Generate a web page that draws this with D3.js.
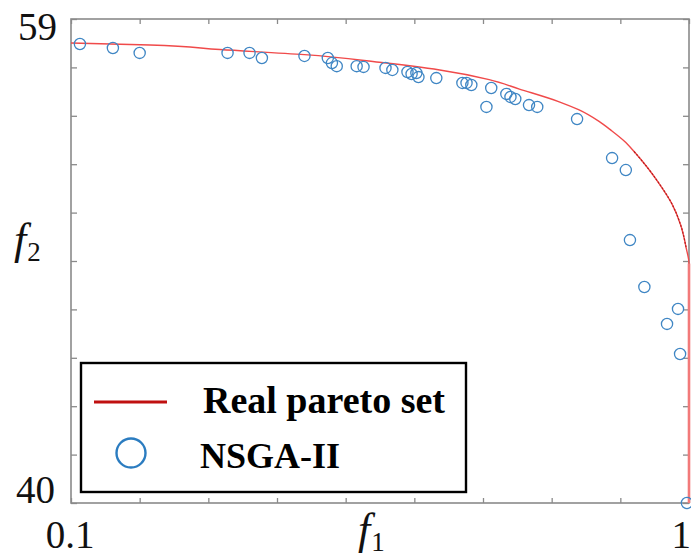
<!DOCTYPE html>
<html>
<head>
<meta charset="utf-8">
<script src="https://cdn.jsdelivr.net/npm/d3@7"></script>
<style>
  html, body { margin: 0; padding: 0; background: #fff; }
  svg { display: block; }
</style>
</head>
<body>
<svg id="chart" width="691" height="557"></svg>
<script>
// Axis ticks and end labels
const f1Ticks = [0.1, 0.2, 0.3, 0.4, 0.5, 0.6, 0.7, 0.8, 0.9, 1.0];
const f2Ticks = [40, 41.9, 43.8, 45.7, 47.6, 49.5, 51.4, 53.3, 55.2, 57.1, 59];
const f1Labels = [{ v: 0.1, t: "0.1" }, { v: 1.0, t: "1" }];
const f2Labels = [{ v: 59, t: "59" }, { v: 40, t: "40" }];

// Real Pareto front (f1, f2)
const frontF1 = [0.100, 0.215, 0.317, 0.440, 0.549, 0.637, 0.709, 0.753, 0.811, 0.840,
                 0.869, 0.887, 0.906, 0.920, 0.940, 0.955, 0.975, 0.988, 0.996, 1.000, 1.000];
const frontF2 = [58.06, 57.98, 57.80, 57.60, 57.30, 57.00, 56.62, 56.25, 55.75, 55.43,
                 54.98, 54.62, 54.20, 53.80, 53.15, 52.60, 51.75, 50.90, 50.00, 49.40, 40.00];

// NSGA-II solutions (f1, f2)
const nsgaF1 = [0.113, 0.161, 0.200, 0.328, 0.360, 0.378, 0.440, 0.474, 0.480, 0.487,
                0.516, 0.526, 0.558, 0.568, 0.590, 0.596, 0.603, 0.606, 0.632, 0.670,
                0.676, 0.683, 0.712, 0.705, 0.734, 0.740, 0.747, 0.767, 0.779, 0.837,
                0.888, 0.908, 0.914, 0.935, 0.984, 0.968, 0.987, 0.997];
const nsgaF2 = [58.02, 57.86, 57.67, 57.67, 57.67, 57.47, 57.55, 57.47, 57.27, 57.15,
                57.15, 57.12, 57.08, 57.00, 56.92, 56.84, 56.88, 56.72, 56.68, 56.49,
                56.49, 56.41, 56.29, 55.55, 56.06, 55.94, 55.86, 55.62, 55.55, 55.07,
                53.54, 53.07, 50.32, 48.48, 47.62, 47.03, 45.85, 40.00];

const seriesNames = ["Real pareto set", "NSGA-II"];

const svg = d3.select("#chart");
const plotL = 71, plotR = 689, plotT = 19, plotB = 503;

const x = d3.scaleLinear().domain([0.1, 1.0]).range([plotL, plotR]);
const y = d3.scaleLinear().domain([40, 59]).range([plotB, plotT]);

const frameColor = "#8a8a8a";
const serif = "'Liberation Serif', 'Times New Roman', serif";

// Inward ticks on all four sides
function styleAxis(g) {
  g.select(".domain").remove();
  g.selectAll(".tick line").attr("stroke", frameColor).attr("stroke-width", 1.3);
  g.selectAll(".tick text").remove();
}
svg.append("g").attr("transform", `translate(0,${plotB})`)
  .call(d3.axisBottom(x).tickValues(f1Ticks).tickSize(-5)).call(styleAxis);
svg.append("g").attr("transform", `translate(0,${plotT})`)
  .call(d3.axisTop(x).tickValues(f1Ticks).tickSize(-5)).call(styleAxis);
svg.append("g").attr("transform", `translate(${plotL},0)`)
  .call(d3.axisLeft(y).tickValues(f2Ticks).tickSize(-6)).call(styleAxis);
svg.append("g").attr("transform", `translate(${plotR},0)`)
  .call(d3.axisRight(y).tickValues(f2Ticks).tickSize(-6)).call(styleAxis);

// Plot frame
svg.append("rect")
  .attr("x", plotL).attr("y", plotT)
  .attr("width", plotR - plotL).attr("height", plotB - plotT)
  .attr("fill", "none").attr("stroke", frameColor).attr("stroke-width", 1.6);

// Pareto front
const front = frontF1.map((v, i) => [v, frontF2[i]]);
const line = d3.line().x(d => x(d[0])).y(d => y(d[1])).curve(d3.curveMonotoneY);
svg.append("path")
  .datum(front)
  .attr("d", line)
  .attr("fill", "none")
  .attr("stroke", "#f04a4a")
  .attr("stroke-width", 1.4);
// denser part of the front near the knee
svg.append("path")
  .datum(front.filter(d => d[0] >= 0.915 && d[1] >= 49.8))
  .attr("d", line)
  .attr("fill", "none")
  .attr("stroke", "#b81c1c")
  .attr("stroke-width", 1.2)
  .attr("stroke-dasharray", "2,1.5");
// vertical part along f1 = 1
svg.append("path")
  .datum(front.filter(d => d[0] >= 1.0))
  .attr("d", line)
  .attr("fill", "none")
  .attr("stroke", "#f27a7a")
  .attr("stroke-width", 2.6);

// NSGA-II points
svg.append("g").selectAll("circle")
  .data(nsgaF1.map((v, i) => [v, nsgaF2[i]]))
  .join("circle")
  .attr("cx", d => x(d[0]))
  .attr("cy", d => y(d[1]))
  .attr("r", 5.6)
  .attr("fill", "none")
  .attr("stroke", "#3f86c4")
  .attr("stroke-width", 1.3);

// Tick labels
svg.append("g").selectAll("text")
  .data(f2Labels)
  .join("text")
  .attr("x", d => d.v === 59 ? 57 : 55)
  .attr("y", d => d.v === 59 ? y(d.v) + 21 : y(d.v))
  .attr("text-anchor", "end")
  .attr("font-family", serif)
  .attr("font-size", 39)
  .attr("fill", "#111")
  .text(d => d.t);
svg.append("g").selectAll("text")
  .data(f1Labels)
  .join("text")
  .attr("x", d => d.v === 0.1 ? x(d.v) - 1 : 691)
  .attr("y", 548)
  .attr("text-anchor", d => d.v === 0.1 ? "middle" : "end")
  .attr("font-family", serif)
  .attr("font-size", 39)
  .attr("fill", "#111")
  .text(d => d.t);

// Axis titles
function axisTitle(tx, ty, sub) {
  const t = svg.append("text")
    .attr("x", tx).attr("y", ty)
    .attr("font-family", serif)
    .attr("fill", "#111");
  t.append("tspan").attr("font-style", "italic").attr("font-size", 44).text("f");
  t.append("tspan").attr("font-size", 27).attr("dx", 1).attr("dy", 7).text(sub);
}
axisTitle(358, 544, "1");
axisTitle(14, 254, "2");

// Legend
const lg = svg.append("g");
lg.append("rect")
  .attr("x", 81).attr("y", 363)
  .attr("width", 385).attr("height", 129)
  .attr("fill", "#fff")
  .attr("stroke", "#000")
  .attr("stroke-width", 2.4);
lg.append("line")
  .attr("x1", 94).attr("x2", 167)
  .attr("y1", 402).attr("y2", 402)
  .attr("stroke", "#c01010")
  .attr("stroke-width", 3);
lg.append("circle")
  .attr("cx", 131).attr("cy", 453)
  .attr("r", 14.5)
  .attr("fill", "none")
  .attr("stroke", "#2b7cc0")
  .attr("stroke-width", 2.4);
lg.selectAll("text.entry")
  .data(seriesNames)
  .join("text")
  .attr("class", "entry")
  .attr("x", (d, i) => i === 0 ? 203 : 200)
  .attr("y", (d, i) => i === 0 ? 413 : 468)
  .attr("font-family", serif)
  .attr("font-weight", "bold")
  .attr("font-size", (d, i) => i === 0 ? 38 : 36)
  .attr("fill", "#000")
  .text(d => d);
</script>
</body>
</html>
